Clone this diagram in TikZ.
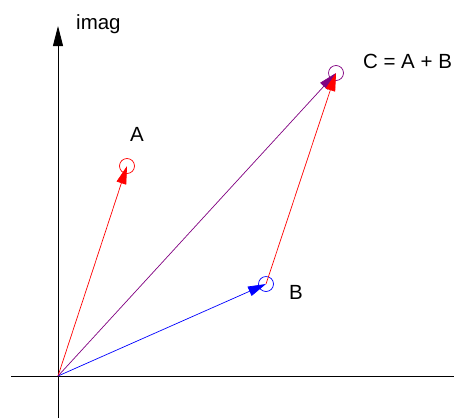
\documentclass[tikz,border=0pt]{standalone}
\usepackage{fontspec}
\setmainfont{Liberation Sans}
\usetikzlibrary{arrows.meta}
\definecolor{vpurple}{RGB}{128,0,128}
\tikzset{
  axis/.style={line width=0.9pt, black},
  vec/.style={line width=0.7pt, -{Triangle[length=18pt,width=10pt]}},
  pt/.style={circle, draw, line width=0.7pt, minimum size=15pt, inner sep=0pt},
  lbl/.style={font=\fontsize{20.5}{24}\selectfont, inner sep=0pt}
}
\begin{document}
\begin{tikzpicture}[x=1pt,y=-1pt]
\useasboundingbox (0,0) rectangle (454,418);
% axes
\coordinate (O) at (58,376);
\coordinate (xl) at (11,376);
\coordinate (xr) at (454,376);
\coordinate (yb) at (58,418);
\coordinate (yt) at (58,26);
\draw[axis] (xl) -- (xr);
\draw[axis, -{Triangle[length=20pt,width=10pt]}] (yb) -- (yt);
\node[lbl, anchor=base west] (imag) at (76,29) {imag};
% points
\node[pt, draw=red] (A) at (127,166) {};
\node[pt, draw=blue] (B) at (266,284) {};
\node[pt, draw=vpurple] (C) at (336,73) {};
\node[lbl] (lA) at (137,134) {A};
\node[lbl] (lB) at (296,292) {B};
\node[lbl] (lC) at (407.5,61) {C = A + B};
% vectors
\draw[vec, red] (O) -- (A.center);
\draw[vec, blue] (O) -- (B.center);
\draw[vec, vpurple] (O) -- (C.center);
\draw[vec, red] (B.center) -- (C.center);
\end{tikzpicture}
\end{document}
